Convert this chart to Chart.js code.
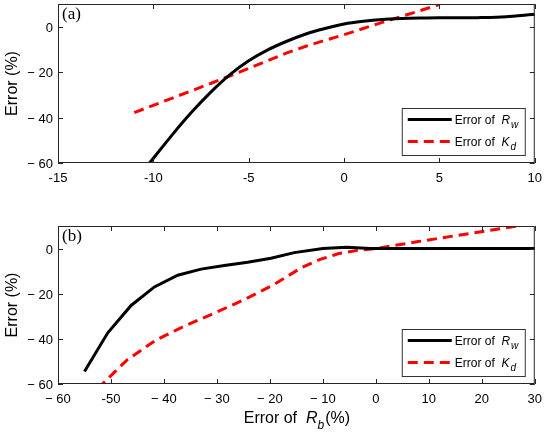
<!DOCTYPE html>
<html lang="en">
<head>
<meta charset="UTF-8">
<title>Error of Rw and Kd</title>
<script src="https://cdn.jsdelivr.net/npm/chart.js"></script>
<style>
  body { margin: 0; background: #fff; }
  .panel { position: absolute; left: 0; width: 550px; }
  #panelA { top: 0; height: 200px; }
  #panelB { top: 205px; height: 230px; }
</style>
</head>
<body>
<div class="panel" id="panelA"><canvas id="chartA"></canvas></div>
<div class="panel" id="panelB"><canvas id="chartB"></canvas></div>
<script>
// panel (a)
const aRwX = [-10.2, -9, -8, -7, -6, -5, -4, -3, -2, -1, 0, 1, 2, 3, 4, 5, 6, 7, 8, 9, 10];
const aRwY = [-60, -47.5, -37.7, -28.9, -21.2, -15, -10.2, -6.4, -3.2, -0.8, 1.2, 2.4, 3.2, 3.6, 3.8, 3.9, 3.9, 4.0, 4.2, 4.7, 5.5];
const aKdX = [-11, -10, -9, -8, -7, -6, -5, -4, -3, -2, -1, 0, 1, 2, 3, 4, 5];
const aKdY = [-37.8, -34.6, -31.4, -28.2, -25, -21.7, -18.3, -14.9, -11.5, -8.6, -6, -3.5, -0.8, 1.9, 4.5, 7.1, 9.8];
const aXTicks = [-15, -10, -5, 0, 5, 10];
const aXLabels = ['-15', '-10', '-5', '0', '5', '10'];

// panel (b)
const bRwX = [-55, -50.6, -46.2, -41.8, -37.4, -33, -28.6, -24.2, -19.8, -15.4, -10, -5.5, -1, 10, 20, 30];
const bRwY = [-54.5, -37.3, -25.2, -17, -11.8, -9.1, -7.5, -6.1, -4.3, -1.8, 0, 0.6, 0, 0, 0, 0];
const bKdX = [-52.5, -47, -41.5, -36, -30.5, -25, -19.5, -14, -10.5, -7, -3.5, 0, 8, 18, 28];
const bKdY = [-62, -49.4, -40.5, -34.2, -28.6, -22.8, -16.3, -8.4, -4.8, -2.2, -0.8, 0, 3.1, 6.8, 10.5];
const bXTicks = [-60, -50, -40, -30, -20, -10, 0, 10, 20, 30];
const bXLabels = ['\u2212 60', '-50', '\u2212 40', '\u2212 30', '\u2212 20', '\u2212 10', '0', '10', '20', '30'];

const yTicks = [-60, -40, -20, 0];
const yLabels = ['\u2212 60', '\u2212 40', '\u2212 20', '0'];

const SANS = '"Liberation Sans", Arial, sans-serif';

function pts(xs, ys) {
  return xs.map((x, i) => ({ x: x, y: ys[i] }));
}

// box with inward ticks, y labels, legend, panel tag and optional x title
const framePlugin = {
  id: 'frame',
  afterDraw(chart, args, opts) {
    const { ctx, chartArea: a, scales: { x, y } } = chart;
    ctx.save();
    ctx.strokeStyle = '#262626';
    ctx.lineWidth = 1;
    ctx.strokeRect(a.left + 0.5, a.top + 0.5, a.right - a.left - 1, a.bottom - a.top - 1);
    ctx.beginPath();
    x.ticks.forEach(t => {
      const px = Math.round(x.getPixelForValue(t.value)) + 0.5;
      ctx.moveTo(px, a.bottom); ctx.lineTo(px, a.bottom - 5);
      ctx.moveTo(px, a.top); ctx.lineTo(px, a.top + 5);
    });
    y.ticks.forEach(t => {
      const py = Math.round(y.getPixelForValue(t.value)) + 0.5;
      ctx.moveTo(a.left, py); ctx.lineTo(a.left + 5, py);
      ctx.moveTo(a.right, py); ctx.lineTo(a.right - 5, py);
    });
    ctx.stroke();

    ctx.fillStyle = '#000';

    // y title
    ctx.save();
    ctx.translate(13, (a.top + a.bottom) / 2);
    ctx.rotate(-Math.PI / 2);
    ctx.textAlign = 'center';
    ctx.textBaseline = 'middle';
    ctx.font = '16px ' + SANS;
    ctx.fillText('Error (%)', 0, 0);
    ctx.restore();

    // y tick labels
    ctx.font = '13px ' + SANS;
    ctx.textAlign = 'right';
    ctx.textBaseline = 'alphabetic';
    y.ticks.forEach(t => {
      const py = Math.round(y.getPixelForValue(t.value));
      ctx.fillText(yLabels[yTicks.indexOf(t.value)], a.left - 5, py + 5);
    });

    // panel tag
    ctx.font = '17px "Liberation Serif", "Times New Roman", serif';
    ctx.textAlign = 'left';
    ctx.fillText(opts.tag, a.left + 4, a.top + 15);

    // legend
    const bw = 123, bh = 47;
    const bx = a.right - 10 - bw, by = a.bottom - 8 - bh;
    ctx.fillStyle = '#fff';
    ctx.fillRect(bx, by, bw, bh);
    ctx.strokeStyle = '#333';
    ctx.strokeRect(bx + 0.5, by + 0.5, bw, bh);
    const subs = opts.legend;
    chart.data.datasets.forEach((ds, i) => {
      const ly = by + 11.5 + i * 22;
      ctx.save();
      ctx.strokeStyle = ds.borderColor;
      ctx.lineWidth = ds.borderWidth;
      ctx.setLineDash(ds.borderDash || []);
      ctx.beginPath();
      ctx.moveTo(bx + 6, ly); ctx.lineTo(bx + 50, ly);
      ctx.stroke();
      ctx.restore();
      drawSubLabel(ctx, 'Error of  ', subs[i][0], subs[i][1], bx + 53, ly + 4, 12);
    });

    // x title with subscript
    if (opts.xTitle) {
      const fs = 16;
      ctx.font = fs + 'px ' + SANS;
      const w1 = ctx.measureText('Error of  ').width;
      ctx.font = 'italic ' + fs + 'px ' + SANS;
      const w2 = ctx.measureText('R').width;
      ctx.font = 'italic 12px ' + SANS;
      const w3 = ctx.measureText('b').width;
      ctx.font = fs + 'px ' + SANS;
      const w4 = ctx.measureText('(%)').width;
      const total = w1 + w2 + w3 + w4;
      const sx = (a.left + a.right) / 2 - total / 2;
      const base = a.bottom + 39;
      ctx.fillStyle = '#000';
      ctx.fillText('Error of  ', sx, base);
      ctx.font = 'italic ' + fs + 'px ' + SANS;
      ctx.fillText('R', sx + w1, base);
      ctx.font = 'italic 12px ' + SANS;
      ctx.fillText('b', sx + w1 + w2, base + 6);
      ctx.font = fs + 'px ' + SANS;
      ctx.fillText('(%)', sx + w1 + w2 + w3 + 1, base);
    }
    ctx.restore();
  }
};

function drawSubLabel(ctx, plain, main, sub, x, base, fs) {
  ctx.fillStyle = '#000';
  ctx.textAlign = 'left';
  ctx.textBaseline = 'alphabetic';
  ctx.font = fs + 'px ' + SANS;
  ctx.fillText(plain, x, base);
  let cx = x + ctx.measureText(plain).width;
  ctx.font = 'italic ' + fs + 'px ' + SANS;
  ctx.fillText(main, cx, base);
  cx += ctx.measureText(main).width;
  ctx.font = 'italic ' + Math.round(fs * 0.8) + 'px ' + SANS;
  ctx.fillText(sub, cx + 1, base + 4);
}

function makeChart(id, cfg) {
  return new Chart(document.getElementById(id), {
    type: 'scatter',
    data: {
      datasets: [
        {
          label: 'Error of Rw',
          data: cfg.rw,
          showLine: true,
          borderColor: '#000',
          borderWidth: 3,
          pointRadius: 0,
          tension: cfg.tension,
          cubicInterpolationMode: cfg.tension ? 'monotone' : 'default'
        },
        {
          label: 'Error of Kd',
          data: cfg.kd,
          showLine: true,
          borderColor: '#ff0000',
          borderWidth: 3,
          borderDash: [10, 6],
          pointRadius: 0,
          tension: 0
        }
      ]
    },
    options: {
      responsive: true,
      maintainAspectRatio: false,
      animation: false,
      layout: { padding: { top: cfg.padTop, right: 10, left: 0, bottom: 0 } },
      plugins: {
        legend: { display: false },
        tooltip: { enabled: false },
        frame: { tag: cfg.tag, xTitle: cfg.xTitle, legend: [['R', 'w'], ['K', 'd']] }
      },
      scales: {
        x: {
          type: 'linear',
          min: cfg.xMin, max: cfg.xMax,
          afterBuildTicks: s => { s.ticks = cfg.xTicks.map(v => ({ value: v })); },
          afterFit: s => { s.height = cfg.xHeight; },
          grid: { display: false, drawTicks: false, tickLength: 0 },
          border: { display: false },
          ticks: {
            autoSkip: false, maxRotation: 0, padding: cfg.xPad,
            color: '#000', font: { family: SANS, size: 13 },
            callback: v => cfg.xLabels[cfg.xTicks.indexOf(v)]
          }
        },
        y: {
          type: 'linear',
          min: -60, max: 10,
          afterBuildTicks: s => { s.ticks = yTicks.map(v => ({ value: v })); },
          afterFit: s => { s.width = 58; s.paddingTop = 0; s.paddingBottom = 0; },
          grid: { display: false, drawTicks: false, tickLength: 0 },
          border: { display: false },
          ticks: { display: false }
        }
      }
    },
    plugins: [framePlugin]
  });
}

makeChart('chartA', {
  rw: pts(aRwX, aRwY), kd: pts(aKdX, aKdY), tension: 0.4,
  xMin: -15, xMax: 10, xTicks: aXTicks, xLabels: aXLabels,
  padTop: 4, xHeight: 37, xPad: 8, tag: '(a)', xTitle: false
});

makeChart('chartB', {
  rw: pts(bRwX, bRwY), kd: pts(bKdX, bKdY), tension: 0,
  xMin: -60, xMax: 30, xTicks: bXTicks, xLabels: bXLabels,
  padTop: 21, xHeight: 51, xPad: 8, tag: '(b)', xTitle: true
});
</script>
</body>
</html>
